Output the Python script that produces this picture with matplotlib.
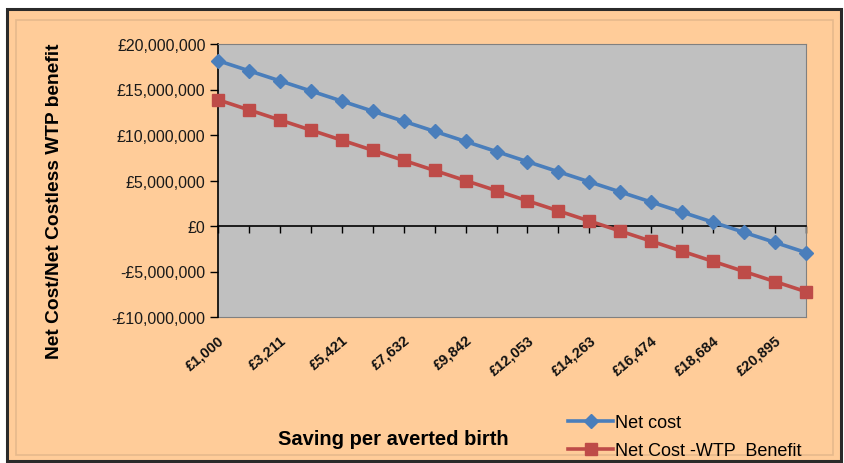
#import libraries
import matplotlib
matplotlib.use('Agg')
import matplotlib.pyplot as plt
from matplotlib.patches import Rectangle
from matplotlib.ticker import FuncFormatter

#data: saving per averted birth and the two cost series (in pounds)
saving = [1000, 2105, 3211, 4316, 5421, 6526, 7632, 8737, 9842, 10947,
          12053, 13158, 14263, 15368, 16474, 17579, 18684, 19789, 20895, 22000]
net_cost = [18.17, 17.06, 15.95, 14.84, 13.73, 12.62, 11.51, 10.40, 9.29, 8.18,
            7.07, 5.96, 4.85, 3.74, 2.63, 1.52, 0.41, -0.70, -1.81, -2.92]
net_cost_wtp = [13.87, 12.76, 11.65, 10.54, 9.43, 8.32, 7.21, 6.10, 4.99, 3.88,
                2.77, 1.66, 0.55, -0.56, -1.67, -2.78, -3.89, -5.00, -6.11, -7.22]
net_cost = [v * 1e6 for v in net_cost]
net_cost_wtp = [v * 1e6 for v in net_cost_wtp]
y_ticks = [-10e6, -5e6, 0, 5e6, 10e6, 15e6, 20e6]

plt.rcParams['font.family'] = ['Liberation Sans', 'DejaVu Sans']
peach = '#FFCC99'

W, H = 845, 464
fig = plt.figure(figsize=(W / 100, H / 100), dpi=100)
fig.patch.set_facecolor('white')

#chart frame
def fr(x0, y0, x1, y1):
    return (x0 / W, 1 - y1 / H), (x1 - x0) / W, (y1 - y0) / H

xy, w, h = fr(7, 10, 841, 462)
fig.patches.append(Rectangle(xy, w, h, transform=fig.transFigure, facecolor=peach,
                             edgecolor='#2a2a2a', linewidth=2.2, zorder=-10))
xy, w, h = fr(16, 21, 833, 456)
fig.patches.append(Rectangle(xy, w, h, transform=fig.transFigure, facecolor='none',
                             edgecolor='#E6B98C', linewidth=1.2, zorder=-9))

ax = fig.add_axes([218 / W, 1 - 318 / H, (806 - 218) / W, (318 - 45) / H])
ax.set_facecolor('#C0C0C0')

idx = list(range(len(saving)))
ax.plot(idx, net_cost, color='#4A7EBB', linewidth=2.6, marker='D', markersize=7,
        label='Net cost', clip_on=False, zorder=3)
ax.plot(idx, net_cost_wtp, color='#BE4B48', linewidth=2.6, marker='s', markersize=9,
        label='Net Cost -WTP  Benefit', clip_on=False, zorder=3)

ax.set_xlim(0, len(saving) - 1)
ax.set_ylim(-10e6, 20e6)
ax.set_yticks(y_ticks)
ax.yaxis.set_major_formatter(FuncFormatter(
    lambda v, p: '£0' if v == 0 else ('-£{:,.0f}'.format(-v) if v < 0 else '£{:,.0f}'.format(v))))
ax.tick_params(axis='y', direction='out', length=6, width=1, labelsize=11.5, pad=3,
               color='black', labelcolor='#1a1a1a')

#category axis crosses at zero, tick labels sit at the bottom
ax.spines['bottom'].set_position(('data', 0))
ax.spines['bottom'].set_color('black')
ax.spines['bottom'].set_linewidth(1.2)
ax.spines['left'].set_color('black')
ax.spines['left'].set_linewidth(1.2)
for s in ['top', 'right']:
    ax.spines[s].set_color('#808080')
ax.set_xticks(idx)
ax.tick_params(axis='x', direction='out', length=5, width=1, labelbottom=False, color='black')

sec = ax.secondary_xaxis(0.0)
sec.set_xticks(idx[::2], ['£{:,}'.format(s) for s in saving[::2]])
sec.tick_params(axis='x', length=0, pad=11, labelsize=10.5)
sec.spines['bottom'].set_color('#808080')
for lab in sec.get_xticklabels():
    lab.set_rotation(40)
    lab.set_ha('right')
    lab.set_rotation_mode('anchor')
    lab.set_fontweight('bold')
    lab.set_color('#111111')

fig.text(55 / W, 1 - 201 / H, 'Net Cost/Net Costless WTP benefit', rotation=90,
         ha='center', va='center', fontsize=13.8, fontweight='bold')
fig.text(393 / W, 1 - 440 / H, 'Saving per averted birth', ha='center', va='center',
         fontsize=14.5, fontweight='bold')

leg = fig.legend(loc='upper left', bbox_to_anchor=(568 / W, 1 - 415 / H), frameon=False,
                 fontsize=13, handlelength=2.5, handletextpad=0.1, labelspacing=0.6,
                 borderpad=0, borderaxespad=0)

fig.savefig('out.png', dpi=100, facecolor=fig.get_facecolor())
